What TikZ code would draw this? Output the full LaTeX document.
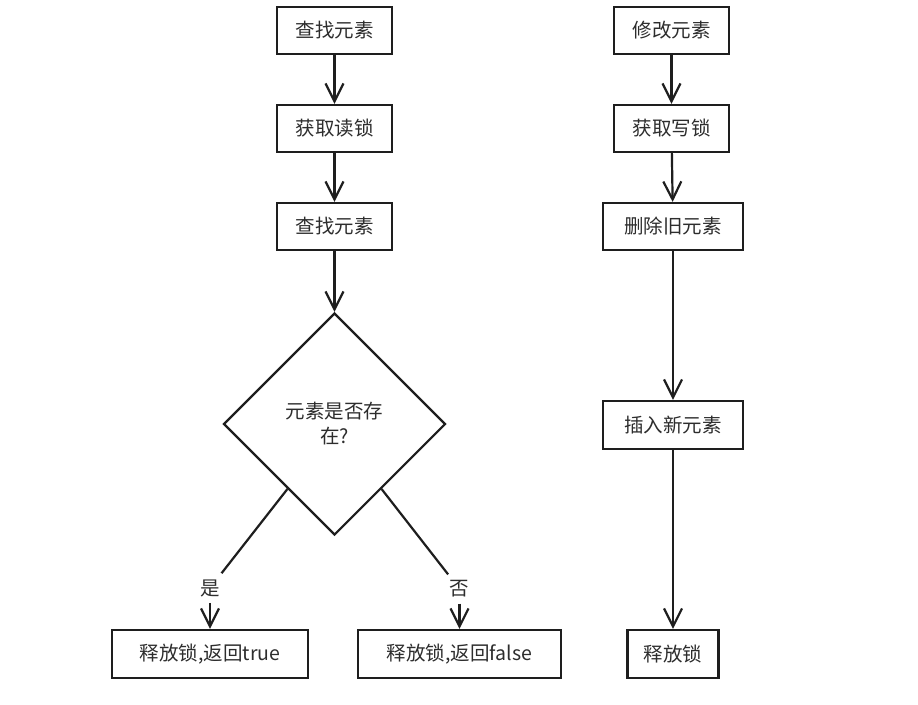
\documentclass[tikz,border=0pt]{standalone}
\usepackage{fontspec}
\setmainfont{Noto Sans CJK SC}
\usetikzlibrary{shapes.geometric,arrows.meta,calc}
\definecolor{ink}{RGB}{30,30,30}
\definecolor{txt}{RGB}{45,45,45}
\begin{document}
\begin{tikzpicture}[x=1pt,y=-1pt,
  box/.style={draw=ink, line width=2.2pt, fill=white, minimum height=47pt, inner sep=0pt, text=txt, font=\fontsize{19.5}{23}\selectfont},
  decision/.style={diamond, draw=ink, line width=2.2pt, minimum width=222pt, minimum height=222pt, inner sep=0pt, aspect=1, align=center, text=txt, font=\fontsize{19.5}{25}\selectfont},
  lbl/.style={inner sep=6pt, text=txt, font=\fontsize{19.5}{23}\selectfont},
  link/.style={draw=ink, line width=2.2pt},
  arr/.style={draw=ink, line width=2.2pt, -{Straight Barb[length=18pt,width=18pt]}}
]
\useasboundingbox[fill=white] (0,0) rectangle (918,704);

% left column
\node[box, minimum width=115pt] (f1) at (334.5,30.5) {查找元素};
\node[box, minimum width=115pt] (f2) at (334.5,128.5) {获取读锁};
\node[box, minimum width=115pt] (f3) at (334.5,226.5) {查找元素};
\node[decision] (dia) at (334.5,424) {元素是否存\\在?};
\node[box, minimum width=196pt, minimum height=48pt] (btrue) at (210,654) {释放锁,返回true};
\node[box, minimum width=203pt, minimum height=48pt] (bfalse) at (459.5,654) {释放锁,返回false};
\node[lbl] (yes) at (210,588) {是};
\node[lbl] (no) at (459.5,589) {否};

\draw[arr] (f1) -- (f2);
\draw[arr] (f2) -- (f3);
\draw[arr] (f3) -- (dia);
\draw[link] ($(dia.west)!0.58!(dia.south)$) -- (yes);
\draw[arr] (yes) -- (btrue);
\draw[link] ($(dia.east)!0.58!(dia.south)$) -- (no);
\draw[arr] (no) -- (bfalse);

% right column
\node[box, minimum width=115pt] (r1) at (671.5,30.5) {修改元素};
\node[box, minimum width=115pt] (r2) at (671.5,128.5) {获取写锁};
\node[box, minimum width=140pt] (r3) at (673,226.5) {删除旧元素};
\node[box, minimum width=140pt, minimum height=48pt] (r4) at (673,425) {插入新元素};
\node[box, minimum width=91pt, minimum height=48pt] (r5) at (673,654) {释放锁};

\draw[arr] (r1) -- (r2);
\draw[arr] (r2) -- (r3);
\draw[arr] (r3) -- (r4);
\draw[arr] (r4) -- (r5);
\end{tikzpicture}
\end{document}
